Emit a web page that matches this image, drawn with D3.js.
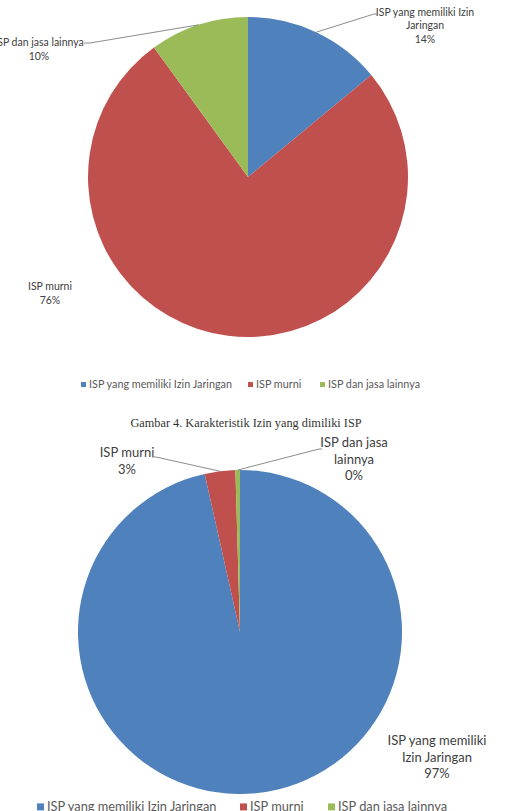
<!DOCTYPE html>
<html>
<head>
<meta charset="utf-8">
<script src="https://cdn.jsdelivr.net/npm/d3@7"></script>
<style>
  html, body { margin: 0; padding: 0; background: #fff; }
  svg { display: block; }
</style>
</head>
<body>
<svg id="chart" width="505" height="811"></svg>
<script>
// ---- Data ----
const categories = ["ISP yang memiliki Izin Jaringan", "ISP murni", "ISP dan jasa lainnya"];
const colors = ["#4F81BD", "#C0504D", "#9BBB59"];
const chart1Values = [14, 76, 10];
const chart2Values = [96.5, 3.05, 0.45];
const chart1LabelLines = [["ISP yang memiliki Izin", "Jaringan"], ["ISP murni"], ["ISP dan jasa lainnya"]];
const chart2LabelLines = [["ISP yang memiliki", "Izin Jaringan"], ["ISP murni"], ["ISP dan jasa", "lainnya"]];
const caption = "Gambar 4. Karakteristik Izin yang dimiliki ISP";

const svg = d3.select("#chart");
const FONT = "Lato, 'Open Sans', sans-serif";

function drawPie(cfg) {
  const total = d3.sum(cfg.values);
  const pie = d3.pie().sort(null).value(d => d)(cfg.values);
  const arc = d3.arc().innerRadius(0).outerRadius(cfg.r);
  const g = svg.append("g").attr("transform", `translate(${cfg.cx},${cfg.cy})`);
  g.selectAll("path").data(pie).join("path")
    .attr("d", arc)
    .attr("fill", (d, i) => colors[i]);

  // labels
  pie.forEach((d, i) => {
    const L = cfg.labels[i];
    const lines = cfg.lines[i].concat([Math.round(d.value / total * 100) + "%"]);
    const t = svg.append("text")
      .attr("text-anchor", "middle")
      .attr("font-family", FONT)
      .attr("font-size", cfg.fontSize)
      .attr("fill", "#404040");
    lines.forEach((ln, k) => {
      t.append("tspan").attr("x", L.x).attr("y", L.y + k * cfg.lineH).text(ln);
    });
    if (L.leader) {
      const mid = (d.startAngle + d.endAngle) / 2;
      const px = cfg.cx + cfg.r * Math.sin(mid);
      const py = cfg.cy - cfg.r * Math.cos(mid);
      svg.append("polyline")
        .attr("points", [[px, py]].concat(L.leader).map(p => p.join(",")).join(" "))
        .attr("fill", "none")
        .attr("stroke", "#7f7f7f")
        .attr("stroke-width", 0.9);
    }
  });

  // legend
  const lg = svg.append("g").attr("font-family", FONT).attr("font-size", cfg.legend.fontSize).attr("fill", "#595959");
  categories.forEach((c, i) => {
    const x = cfg.legend.xs[i];
    const s = cfg.legend.sq;
    lg.append("rect").attr("x", x).attr("y", cfg.legend.y - s / 2 - cfg.legend.fontSize * 0.32).attr("width", s).attr("height", s).attr("fill", colors[i]);
    lg.append("text").attr("x", x + s + 3).attr("y", cfg.legend.y).text(c);
  });
}

drawPie({
  values: chart1Values, cx: 248, cy: 177, r: 160,
  fontSize: 10.5, lineH: 13.5,
  lines: chart1LabelLines,
  labels: [
    { x: 425, y: 15.5, leader: [[374, 14], [377, 14]] },
    { x: 50, y: 290 },
    { x: 39, y: 46, leader: [[90, 43], [84, 43]] }
  ],
  legend: { y: 388, xs: [81, 248, 320], sq: 5, fontSize: 10.8 }
});

svg.append("text")
  .attr("x", 246).attr("y", 427)
  .attr("text-anchor", "middle")
  .attr("font-family", "'Liberation Serif', 'Times New Roman', serif")
  .attr("font-size", 12.3)
  .attr("fill", "#333")
  .text(caption);

drawPie({
  values: chart2Values, cx: 240, cy: 632, r: 162,
  fontSize: 13, lineH: 16.5,
  lines: chart2LabelLines,
  labels: [
    { x: 437, y: 745 },
    { x: 127, y: 457, leader: [[156, 457], [152, 457]] },
    { x: 354, y: 447, leader: [[319, 449], [322, 449]] }
  ],
  legend: { y: 811, xs: [37, 240, 328], sq: 7, fontSize: 12.8 }
});
</script>
</body>
</html>
